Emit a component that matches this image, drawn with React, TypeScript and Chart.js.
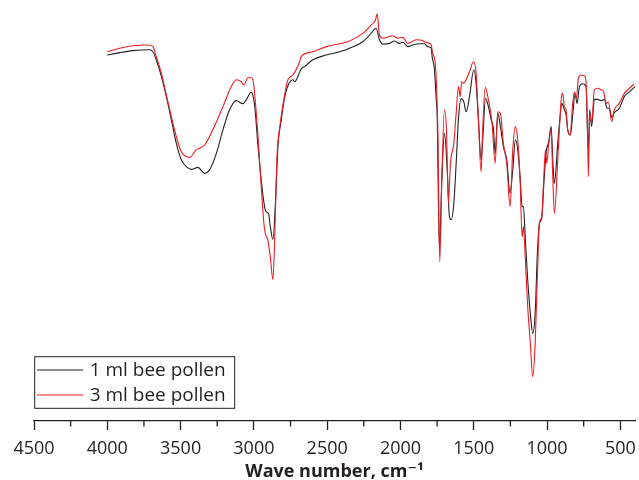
import React, { useEffect, useRef } from 'react';
import { Chart, registerables } from 'chart.js';

Chart.register(...registerables);

// ---- Data ----
const SERIES_LABELS = ['1 ml bee pollen', '3 ml bee pollen'];
const SERIES_COLORS = ['#231f20', '#ed1c24'];

const WAVENUMBER_1ML = [4000, 3916, 3825, 3711, 3689, 3666, 3631, 3597, 3563, 3529, 3495, 3461, 3427, 3382, 3336, 3302, 3256, 3211, 3166, 3120, 3075, 3052, 3018, 3011, 2995, 2973, 2950, 2927, 2916, 2900, 2888, 2870, 2852, 2836, 2813, 2791, 2768, 2734, 2722, 2677, 2654, 2598, 2506, 2416, 2348, 2257, 2200, 2166, 2143, 2121, 2075, 2041, 2007, 1984, 1950, 1916, 1870, 1836, 1814, 1790, 1784, 1768, 1756, 1750, 1734, 1718, 1700, 1681, 1666, 1654, 1636, 1620, 1604, 1586, 1568, 1552, 1529, 1500, 1484, 1468, 1450, 1439, 1420, 1400, 1381, 1366, 1354, 1336, 1318, 1298, 1275, 1252, 1234, 1216, 1200, 1184, 1170, 1161, 1148, 1132, 1114, 1098, 1081, 1066, 1052, 1036, 1023, 1006, 989, 972, 961, 950, 927, 911, 900, 882, 870, 859, 841, 825, 809, 795, 779, 757, 734, 723, 718, 709, 696, 677, 655, 631, 609, 590, 575, 559, 541, 507, 473, 438, 400];
const TRANSMITTANCE_1ML = [91.5, 92.1, 92.6, 92.8, 92.3, 90.3, 86.1, 81.1, 75.3, 69.4, 65.3, 63.6, 62.9, 63.4, 61.9, 62.8, 66.9, 72.8, 77.8, 80.1, 79.3, 80.3, 82.2, 81.9, 79.0, 69.2, 60.3, 53.6, 52.3, 51.9, 48.6, 45.4, 55.3, 68.6, 75.3, 80.8, 83.8, 85.3, 84.8, 88.0, 88.6, 90.3, 91.5, 92.3, 93.2, 94.8, 96.9, 98.2, 95.3, 94.2, 94.4, 95.0, 94.4, 94.7, 93.6, 94.0, 94.3, 94.3, 93.6, 93.2, 91.1, 87.8, 80.3, 76.9, 42.8, 60.3, 71.9, 62.8, 51.1, 50.3, 54.4, 64.4, 75.7, 80.6, 79.8, 77.3, 81.1, 87.8, 84.4, 75.3, 65.3, 70.3, 80.7, 78.6, 75.3, 73.2, 66.9, 76.9, 73.6, 68.6, 65.3, 56.9, 62.8, 70.3, 67.8, 61.1, 53.6, 53.6, 45.3, 35.3, 26.9, 21.9, 26.9, 41.9, 49.4, 50.7, 58.6, 67.3, 69.8, 73.6, 65.3, 59.4, 69.4, 76.1, 79.4, 77.8, 76.5, 72.8, 71.5, 76.5, 81.9, 79.4, 83.6, 84.3, 83.6, 71.1, 67.8, 77.8, 73.6, 80.4, 80.4, 80.1, 80.4, 78.2, 78.2, 75.9, 77.1, 78.2, 81.1, 82.3, 83.6];

const WAVENUMBER_3ML = [4000, 3916, 3825, 3723, 3689, 3666, 3631, 3597, 3563, 3529, 3495, 3438, 3393, 3336, 3280, 3211, 3154, 3120, 3086, 3068, 3041, 3018, 3002, 2995, 2973, 2950, 2927, 2905, 2888, 2870, 2857, 2843, 2820, 2791, 2768, 2734, 2688, 2677, 2598, 2506, 2416, 2359, 2257, 2200, 2170, 2159, 2143, 2121, 2052, 2018, 1984, 1950, 1893, 1848, 1836, 1802, 1790, 1780, 1763, 1745, 1732, 1718, 1700, 1686, 1673, 1659, 1636, 1620, 1604, 1593, 1582, 1568, 1552, 1529, 1502, 1484, 1468, 1450, 1439, 1422, 1400, 1375, 1354, 1336, 1318, 1298, 1275, 1252, 1234, 1216, 1200, 1184, 1170, 1161, 1148, 1132, 1114, 1098, 1081, 1066, 1052, 1036, 1023, 1011, 1002, 989, 972, 961, 950, 927, 911, 900, 893, 882, 870, 859, 843, 825, 813, 800, 786, 768, 745, 734, 723, 718, 709, 696, 677, 655, 631, 614, 597, 582, 559, 541, 507, 473, 438, 404];
const TRANSMITTANCE_3ML = [92.3, 93.2, 93.8, 94.0, 93.6, 91.1, 86.9, 81.5, 76.1, 71.1, 67.3, 65.9, 67.8, 69.0, 72.8, 78.6, 83.6, 85.3, 84.8, 84.0, 85.8, 85.8, 84.4, 81.9, 71.9, 58.6, 47.8, 45.3, 41.1, 35.3, 46.9, 65.3, 74.4, 81.3, 85.3, 86.5, 89.8, 91.1, 92.3, 93.6, 94.3, 94.8, 96.9, 99.0, 100.3, 101.8, 96.5, 95.7, 96.3, 95.7, 95.9, 94.4, 95.3, 95.1, 94.8, 94.4, 94.0, 91.9, 89.5, 72.8, 39.8, 60.3, 77.8, 72.8, 54.4, 64.4, 69.4, 76.9, 83.6, 81.1, 84.8, 84.4, 85.3, 87.3, 89.8, 86.9, 75.3, 62.3, 72.8, 83.4, 80.3, 74.4, 64.4, 77.3, 76.9, 69.4, 64.4, 53.6, 67.8, 73.6, 70.3, 60.3, 46.1, 48.6, 40.3, 28.6, 19.4, 11.1, 19.4, 36.1, 49.4, 51.1, 60.3, 67.8, 64.4, 69.0, 72.8, 61.1, 51.9, 65.3, 76.1, 81.5, 81.9, 78.6, 77.8, 72.8, 71.5, 79.4, 82.3, 80.7, 85.7, 86.5, 86.3, 84.8, 71.1, 61.1, 76.9, 74.4, 82.8, 83.2, 82.8, 82.3, 79.4, 79.8, 74.8, 77.8, 79.4, 81.9, 83.2, 84.3];

const MAJOR_TICKS = [4500, 4000, 3500, 3000, 2500, 2000, 1500, 1000, 500];
const MINOR_TICKS = [4250, 3750, 3250, 2750, 2250, 1750, 1250, 750];
const X_TITLE = 'Wave number, cm⁻¹';

const FONT = "'Open Sans', 'DejaVu Sans', sans-serif";
const INK = '#231f20';

const minorTicksPlugin = {
  id: 'minorTicks',
  afterDraw(chart: any) {
    const xs = chart.scales.x;
    const ctx = chart.ctx;
    ctx.save();
    ctx.strokeStyle = INK;
    ctx.lineWidth = 1.3;
    for (const v of MINOR_TICKS) {
      const px = xs.getPixelForValue(v);
      ctx.beginPath();
      ctx.moveTo(px, xs.top);
      ctx.lineTo(px, xs.top + 5.5);
      ctx.stroke();
    }
    ctx.restore();
  },
};

const boxLegendPlugin = {
  id: 'boxLegend',
  afterDraw(chart: any) {
    const { ctx, chartArea } = chart;
    const ds = chart.data.datasets;
    ctx.save();
    ctx.font = `19px ${FONT}`;
    let maxW = 0;
    ds.forEach((d: any) => { maxW = Math.max(maxW, ctx.measureText(d.label).width); });
    const left = chartArea.left + 0.7;
    const bottom = chartArea.bottom - 12.7;
    const rowH = 25;
    const height = 51.6;
    const top = bottom - height;
    const lineStart = left + 2.3;
    const lineEnd = lineStart + 46;
    const textX = lineEnd + 6.7;
    const right = textX + maxW + 9;
    ctx.fillStyle = '#ffffff';
    ctx.fillRect(left, top, right - left, height);
    ctx.strokeStyle = INK;
    ctx.lineWidth = 1;
    ctx.strokeRect(left, top, right - left, height);
    ds.forEach((d: any, i: number) => {
      const y = top + 13.3 + i * rowH;
      ctx.strokeStyle = d.borderColor;
      ctx.lineWidth = 1;
      ctx.beginPath();
      ctx.moveTo(lineStart, y);
      ctx.lineTo(lineEnd, y);
      ctx.stroke();
      ctx.fillStyle = INK;
      ctx.textBaseline = 'middle';
      ctx.textAlign = 'left';
      ctx.fillText(d.label, textX, y + 1);
    });
    ctx.restore();
  },
};

export default function App() {
  const ref = useRef<HTMLCanvasElement | null>(null);
  useEffect(() => {
    if (!ref.current) return;
    const chart = new Chart(ref.current, {
      type: 'line',
      data: {
        datasets: [
          {
            label: SERIES_LABELS[0],
            data: WAVENUMBER_1ML.map((x, i) => ({ x, y: TRANSMITTANCE_1ML[i] })),
            borderColor: SERIES_COLORS[0],
            borderWidth: 1.1,
            pointRadius: 0,
            cubicInterpolationMode: 'monotone',
            order: 1,
          },
          {
            label: SERIES_LABELS[1],
            data: WAVENUMBER_3ML.map((x, i) => ({ x, y: TRANSMITTANCE_3ML[i] })),
            borderColor: SERIES_COLORS[1],
            borderWidth: 1.1,
            pointRadius: 0,
            cubicInterpolationMode: 'monotone',
            order: 0,
          },
        ],
      },
      options: {
        animation: false,
        responsive: false,
        layout: { padding: { left: 34, right: 4, top: 0, bottom: 0 } },
        plugins: { legend: { display: false }, tooltip: { enabled: false } },
        scales: {
          x: {
            type: 'linear',
            reverse: true,
            min: 400,
            max: 4500,
            afterBuildTicks: (s: any) => { s.ticks = MAJOR_TICKS.map((v) => ({ value: v })); },
            afterFit: (s: any) => {
              s.height = 59;
              s.paddingLeft = 0;
              s.paddingRight = 0;
            },
            ticks: {
              autoSkip: false,
              maxRotation: 0,
              padding: 8,
              color: INK,
              font: { family: FONT, size: 18 },
              callback: (v: any) => String(v),
            },
            grid: { drawOnChartArea: false, drawTicks: true, tickLength: 9, tickColor: INK, tickWidth: 1.3 },
            border: { display: true, color: INK, width: 1.3 },
            title: {
              display: true,
              text: X_TITLE,
              color: INK,
              font: { family: FONT, size: 18, weight: 'bold' },
              padding: { top: 0, bottom: -3 },
            },
          },
          y: { display: false, min: 0, max: 105.25 },
        },
      },
      plugins: [minorTicksPlugin, boxLegendPlugin],
    } as any);
    return () => chart.destroy();
  }, []);
  return (
    <div style={{ position: 'fixed', left: 0, top: 0, width: 639, height: 480, background: '#fff' }}>
      <canvas ref={ref} width={639} height={480} style={{ display: 'block' }} />
    </div>
  );
}
